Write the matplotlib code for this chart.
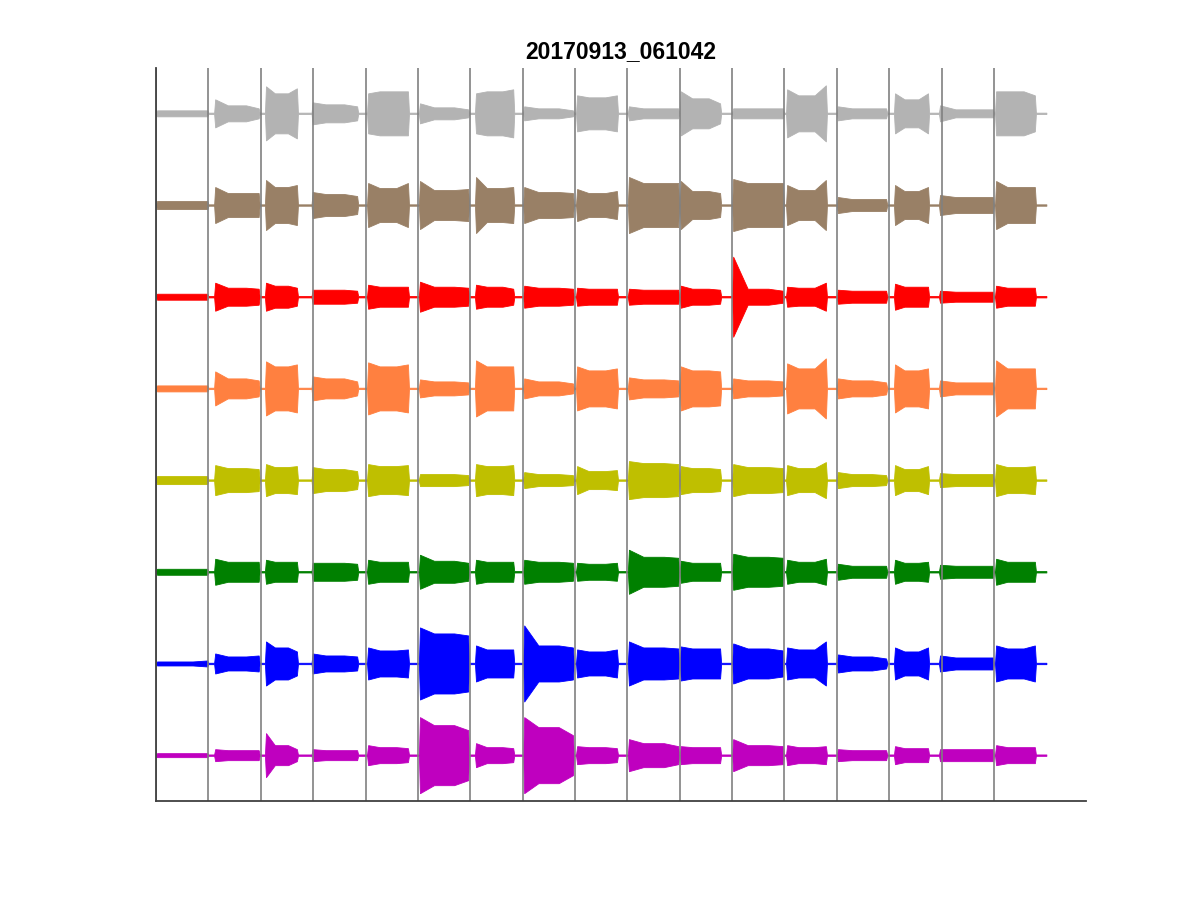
import numpy as np
import matplotlib.pyplot as plt

plt.rcParams["font.family"] = ["Liberation Sans", "DejaVu Sans"]

title = "20170913_061042"

# channel colours, top trace first
colors = [(0.7, 0.7, 0.7), (0.6, 0.5, 0.4), (1.0, 0.0, 0.0), (1.0, 0.5, 0.25),
          (0.75, 0.75, 0.0), (0.0, 0.5, 0.0), (0.0, 0.0, 1.0), (0.75, 0.0, 0.75)]

# event windows per segment (seconds)
onsets = [0.0, 1.11, 2.08, 2.97, 4.03, 5.02, 6.09, 7.01, 8.02, 9.01,
          10.0, 11.0, 12.03, 13.0, 14.09, 14.95, 16.02]
offsets = [1.0, 1.98, 2.71, 3.86, 4.83, 5.98, 6.84, 7.98, 8.82, 9.99,
           10.79, 11.99, 12.81, 13.96, 14.76, 16.0, 16.8]
rec_end = 17.0
floor_amp = 0.7

# envelope (start, middle, end) per segment, one list per channel
gray = [(3, 3, 3), (14, 8, 5), (27, 20, 25), (11, 9, 7), (20, 22, 22), (10, 6, 4),
        (20, 22, 24), (7, 5, 3), (18, 16, 18), (7, 5, 5), (22, 15, 10), (5, 5, 5),
        (24, 18, 28), (7, 5, 5), (20, 14, 20), (8, 4, 4), (22, 22, 18)]
brown = [(4, 4, 4), (18, 12, 12), (25, 18, 20), (13, 11, 9), (22, 17, 22), (24, 15, 16),
         (28, 17, 18), (18, 13, 12), (16, 12, 14), (28, 22, 22), (24, 14, 12), (26, 22, 22),
         (20, 15, 25), (8, 6, 6), (20, 14, 18), (10, 8, 8), (24, 18, 18)]
red = [(3, 3, 3), (14, 9, 8), (14, 11, 9), (7, 7, 6), (12, 10, 10), (15, 10, 9),
       (12, 10, 8), (11, 9, 8), (9, 8, 8), (8, 7, 7), (11, 8, 7), (40, 8, 6),
       (10, 9, 14), (7, 6, 6), (13, 10, 10), (6, 5, 5), (11, 9, 9)]
orange = [(3, 3, 3), (17, 10, 8), (27, 22, 24), (12, 10, 7), (26, 22, 24), (9, 7, 6),
          (28, 22, 22), (10, 7, 5), (22, 18, 20), (11, 9, 8), (22, 18, 17), (10, 8, 7),
          (25, 20, 30), (10, 8, 6), (24, 18, 20), (8, 6, 6), (28, 20, 20)]
yellow = [(4, 4, 4), (15, 12, 11), (16, 13, 14), (13, 11, 9), (16, 14, 15), (6, 6, 5),
          (16, 14, 15), (8, 6, 5), (14, 9, 10), (19, 17, 16), (14, 12, 11), (16, 13, 12),
          (15, 12, 18), (8, 6, 5), (15, 11, 14), (7, 6, 6), (16, 13, 14)]
green = [(3, 3, 3), (13, 10, 10), (12, 10, 10), (9, 9, 8), (12, 10, 10), (17, 11, 9),
         (12, 10, 10), (12, 10, 9), (9, 8, 9), (22, 15, 14), (11, 9, 9), (18, 15, 14),
         (12, 10, 13), (8, 6, 6), (12, 9, 10), (7, 6, 6), (13, 10, 10)]
blue = [(2, 2, 3), (10, 7, 8), (22, 16, 12), (10, 8, 7), (16, 13, 14), (36, 30, 28),
        (18, 14, 14), (38, 18, 16), (14, 12, 14), (22, 16, 15), (17, 15, 15), (20, 15, 13),
        (16, 14, 22), (9, 7, 5), (16, 12, 16), (8, 6, 6), (18, 15, 18)]
magenta = [(2, 2, 2), (6, 5, 5), (22, 10, 6), (6, 5, 5), (10, 8, 7), (38, 30, 25),
           (12, 8, 7), (38, 28, 20), (9, 8, 7), (16, 12, 9), (9, 8, 8), (16, 10, 9),
           (10, 8, 9), (6, 5, 5), (9, 7, 7), (6, 6, 6), (10, 8, 8)]

channels = [gray, brown, red, orange, yellow, green, blue, magenta]
gain = 91.6  # amplitude units per trace spacing

fig = plt.figure(figsize=(12, 9), dpi=100)
ax = fig.add_axes([0.13, 0.11, 0.775, 0.815])

n = len(channels)
for i, (env_list, c) in enumerate(zip(channels, colors)):
    base = n - i
    xs = [0.0]
    ys = [floor_amp]
    for on, off, (s, m, e) in zip(onsets, offsets, env_list):
        w = off - on
        xs += [on, on + 0.02, on + 0.3 * w, on + 0.7 * w, off - 0.02, off]
        ys += [floor_amp, s, m, m, e, floor_amp]
    xs.append(rec_end)
    ys.append(floor_amp)
    xs = np.array(xs)
    ys = np.array(ys) / gain
    ax.fill_between(xs, base - ys, base + ys, color=c, lw=0.6, zorder=2)

for k in range(len(onsets)):
    ax.axvline(k, color=(0.5, 0.5, 0.5), lw=1.2, zorder=3)

ax.set_xlim(0, 930 / 52.375)
ax.set_ylim(0.5, n + 0.5)
ax.set_xticks([])
ax.set_yticks([])
for side in ["top", "right"]:
    ax.spines[side].set_visible(False)
for side in ["left", "bottom"]:
    ax.spines[side].set_color((0.25, 0.25, 0.25))
    ax.spines[side].set_linewidth(1.3)
    ax.spines[side].set_zorder(4)

ax.set_title(title, fontsize=16.5, fontweight="bold", pad=7)

fig.savefig("out.png", dpi=100)
